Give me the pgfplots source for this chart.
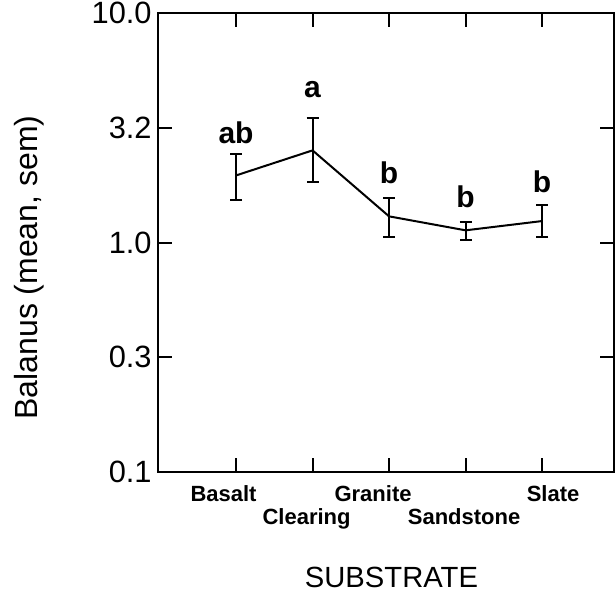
\documentclass[border=0pt]{standalone}
\usepackage{fontspec}
\setmainfont{Liberation Sans}
\usepackage{pgfplots}
\usepackage{pgfplotstable}
\pgfplotsset{compat=1.18}

% mean and upper/lower sem (linear units)
\pgfplotstableread{
x y ep em
0 1.96 0.47 0.43
1 2.52 0.97 0.69
2 1.30 0.27 0.24
3 1.13 0.10 0.10
4 1.24 0.22 0.18
}\means

% group letters, y = baseline
\pgfplotstableread{
x y lab
0 2.70 ab
1 4.30 a
2 1.80 b
3 1.425 b
4 1.656 b
}\letters

% move a tick label sideways by #1 pt
\newcommand\labshift[2]{\hspace*{#1pt}#2\hspace*{-#1pt}}

\begin{document}
\begin{tikzpicture}
\begin{axis}[
  scale only axis, width=228pt, height=229.5pt,
  xmin=-1.02, xmax=4.94,
  ymode=log, ymin=0.1, ymax=10,
  ytick={0.1,0.316228,1,3.16228,10},
  yticklabels={0.1,0.3,1.0,3.2,10.0},
  minor y tick num=0,
  xtick={0,1,2,3,4},
  xticklabels={\labshift{-6.25}{Basalt},
    {\rule{0pt}{7.9pt}\\\labshift{-3}{Clearing}},
    \labshift{-8}{Granite},
    {\rule{0pt}{7.9pt}\\\labshift{-0.75}{Sandstone}},
    \labshift{5.5}{Slate}},
  tick align=inside,
  major tick length=7pt,
  axis line style={line width=1.1pt},
  every tick/.style={black, line width=1pt},
  yticklabel style={font=\fontsize{15.4}{18}\selectfont, inner sep=0pt, xshift=-3pt},
  xticklabel style={font=\bfseries\fontsize{11}{11.75}\selectfont, align=center, inner sep=0pt, yshift=-6.5pt},
  ylabel={Balanus (mean, sem)},
  ylabel style={font=\fontsize{16}{18}\selectfont, at={(axis description cs:-0.2648,0.4455)}, anchor=base},
  xlabel={SUBSTRATE},
  xlabel style={font=\fontsize{14.6}{16}\selectfont, at={(axis description cs:0.512,-0.2527)}, anchor=base},
  clip=false,
]
\addplot[black, line width=1pt, mark=none,
  error bars/.cd, y dir=both, y explicit,
  error bar style={line width=1pt},
  error mark options={rotate=90, line width=1pt, mark size=3pt}]
  table[x=x, y=y, y error plus=ep, y error minus=em] {\means};
\addplot[draw=none, mark=none, nodes near coords, point meta=explicit symbolic,
  every node near coord/.append style={anchor=base, inner sep=0pt, font=\bfseries\fontsize{15}{18}\selectfont, black}]
  table[x=x, y=y, meta=lab] {\letters};
\end{axis}
\pgfresetboundingbox
\path[use as bounding box] (-79pt,-63.5pt) rectangle (228.5pt,236pt);
\end{tikzpicture}
\end{document}
